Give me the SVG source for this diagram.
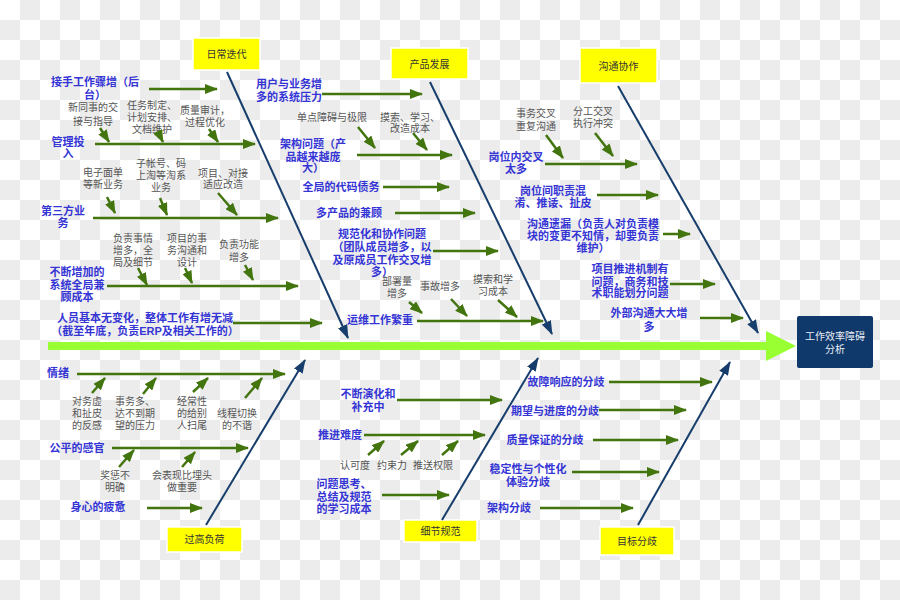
<svg xmlns="http://www.w3.org/2000/svg" width="900" height="600" viewBox="0 0 900 600">
<defs>
<pattern id="chk" width="40" height="40" patternUnits="userSpaceOnUse">
<rect width="40" height="40" fill="#ffffff"/>
<rect x="20" y="0" width="20" height="20" fill="#ececec"/>
<rect x="0" y="20" width="20" height="20" fill="#ececec"/>
</pattern>
<marker id="ga" viewBox="0 0 13 10" refX="12" refY="5" markerWidth="13" markerHeight="10" markerUnits="userSpaceOnUse" orient="auto">
<path d="M0,0 L13,5 L0,10 z" fill="#43750f"/>
</marker>
<marker id="na" viewBox="0 0 14 10" refX="13" refY="5" markerWidth="14" markerHeight="10" markerUnits="userSpaceOnUse" orient="auto">
<path d="M0,0 L14,5 L0,10 z" fill="#163d6b"/>
</marker>
</defs>
<style>
.b{font-family:"Liberation Sans","Noto Sans CJK SC",sans-serif;font-size:11px;font-weight:bold;fill:#3535d5;text-anchor:middle}
.g{font-family:"Liberation Sans","Noto Sans CJK SC",sans-serif;font-size:10px;fill:#555555;text-anchor:middle}
.yb rect{fill:#ffff00;stroke:#ffffff;stroke-width:1.5}
.yb text{font-family:"Liberation Sans","Noto Sans CJK SC",sans-serif;font-size:10px;fill:#333333;text-anchor:middle}
.ga{stroke:#43750f;stroke-width:2.5;fill:none;marker-end:url(#ga)}
.bn{stroke:#163d6b;stroke-width:2;fill:none;marker-end:url(#na)}
</style>
<rect width="900" height="600" fill="url(#chk)"/>

<g id="spine">
<rect x="48" y="342" width="720" height="8" fill="#99ff33"/>
<polygon points="766,331 796,346 766,361" fill="#99ff33"/>
</g>

<g id="head">
<rect x="797" y="316" width="76" height="52" rx="2" fill="#0f386b"/>
<text x="835" y="340" style="font-family:'Liberation Sans','Noto Sans CJK SC',sans-serif;font-size:10px;fill:#e8eef5;text-anchor:middle">工作效率障碍</text>
<text x="835" y="353" style="font-family:'Liberation Sans','Noto Sans CJK SC',sans-serif;font-size:10px;fill:#e8eef5;text-anchor:middle">分析</text>
</g>

<g id="cat-richang" class="yb"><rect x="193" y="38" width="67" height="32"/><text x="226.5" y="58">日常迭代</text></g>
<g id="cat-chanpin" class="yb"><rect x="391" y="48" width="77" height="31"/><text x="429.5" y="67.5">产品发展</text></g>
<g id="cat-goutong" class="yb"><rect x="580" y="48" width="77" height="35"/><text x="618.5" y="69.5">沟通协作</text></g>
<g id="cat-fuhe" class="yb"><rect x="167" y="527" width="75" height="25"/><text x="204.5" y="543">过高负荷</text></g>
<g id="cat-guifan" class="yb"><rect x="404" y="520" width="73" height="22"/><text x="440.5" y="535">细节规范</text></g>
<g id="cat-mubiao" class="yb"><rect x="600" y="527" width="74" height="28"/><text x="637" y="545">目标分歧</text></g>

<!-- 日常迭代 -->
<g id="n-jieshou"><text class="b" x="95" y="86">接手工作骤增（后</text><text class="b" x="95" y="99">台）</text></g>
<g id="s-xintongshi"><text class="g" x="93" y="111">新同事的交</text><text class="g" x="93" y="125">接与指导</text></g>
<g id="s-renwu"><text class="g" x="152" y="109">任务制定、</text><text class="g" x="152" y="121">计划安排、</text><text class="g" x="152" y="133">文档维护</text></g>
<g id="s-zhiliang"><text class="g" x="205" y="114">质量审计，</text><text class="g" x="205" y="126">过程优化</text></g>
<g id="n-guanli"><text class="b" x="68" y="146">管理投</text><text class="b" x="68" y="158">入</text></g>
<g id="s-dianzi"><text class="g" x="103" y="176">电子面单</text><text class="g" x="103" y="188">等新业务</text></g>
<g id="s-zizhang"><text class="g" x="161" y="167">子帐号、码</text><text class="g" x="161" y="179">上淘等淘系</text><text class="g" x="161" y="191">业务</text></g>
<g id="s-xiangmu"><text class="g" x="223" y="177">项目、对接</text><text class="g" x="223" y="188">适应改造</text></g>
<g id="n-disanfang"><text class="b" x="63" y="215">第三方业</text><text class="b" x="63" y="227">务</text></g>
<g id="s-fuze"><text class="g" x="133" y="242">负责事情</text><text class="g" x="133" y="254">增多，全</text><text class="g" x="133" y="266">局及细节</text></g>
<g id="s-xiangmushi"><text class="g" x="187" y="242">项目的事</text><text class="g" x="187" y="254">务沟通和</text><text class="g" x="187" y="266">设计</text></g>
<g id="s-gongneng"><text class="g" x="239" y="248">负责功能</text><text class="g" x="239" y="261">增多</text></g>
<g id="n-buduan"><text class="b" x="77" y="276">不断增加的</text><text class="b" x="77" y="289">系统全局兼</text><text class="b" x="77" y="301">顾成本</text></g>
<g id="n-renyuan"><text class="b" x="145" y="322">人员基本无变化，整体工作有增无减</text><text class="b" x="145" y="335">（截至年底，负责ERP及相关工作的）</text></g>

<!-- 产品发展 -->
<g id="n-yonghu"><text class="b" x="289" y="88">用户与业务增</text><text class="b" x="289" y="101">多的系统压力</text></g>
<g id="s-dandian"><text class="g" x="332" y="121">单点障碍与极限</text></g>
<g id="s-mosuo1"><text class="g" x="410" y="121">摸索、学习、</text><text class="g" x="410" y="132">改造成本</text></g>
<g id="n-jiagou"><text class="b" x="313" y="148">架构问题（产</text><text class="b" x="313" y="161">品越来越庞</text><text class="b" x="313" y="172">大）</text></g>
<g id="n-daima"><text class="b" x="341" y="191">全局的代码债务</text></g>
<g id="n-duochanpin"><text class="b" x="349" y="217">多产品的兼顾</text></g>
<g id="n-guifanhua"><text class="b" x="382" y="238">规范化和协作问题</text><text class="b" x="382" y="251">（团队成员增多，以</text><text class="b" x="382" y="264">及原成员工作交叉增</text><text class="b" x="382" y="276">多）</text></g>
<g id="s-bushu"><text class="g" x="397" y="285">部署量</text><text class="g" x="397" y="297">增多</text></g>
<g id="s-shigu"><text class="g" x="440" y="290">事故增多</text></g>
<g id="s-mosuo2"><text class="g" x="493" y="283">摸索和学</text><text class="g" x="493" y="295">习成本</text></g>
<g id="n-yunwei"><text class="b" x="380" y="324">运维工作繁重</text></g>

<!-- 沟通协作 -->
<g id="s-shiwu"><text class="g" x="536" y="117">事务交叉</text><text class="g" x="536" y="130">重复沟通</text></g>
<g id="s-fengong"><text class="g" x="593" y="115">分工交叉</text><text class="g" x="593" y="127">执行冲突</text></g>
<g id="n-gangweinei"><text class="b" x="516" y="161">岗位内交叉</text><text class="b" x="516" y="173">太多</text></g>
<g id="n-gangweijian"><text class="b" x="553" y="195">岗位间职责混</text><text class="b" x="553" y="207">淆、推诿、扯皮</text></g>
<g id="n-yilou"><text class="b" x="593" y="228">沟通遗漏（负责人对负责模</text><text class="b" x="593" y="240">块的变更不知情，却要负责</text><text class="b" x="593" y="252">维护）</text></g>
<g id="n-tuijin"><text class="b" x="630" y="273">项目推进机制有</text><text class="b" x="630" y="286">问题，商务和技</text><text class="b" x="630" y="297">术职能划分问题</text></g>
<g id="n-waibu"><text class="b" x="649" y="317">外部沟通大大增</text><text class="b" x="649" y="331">多</text></g>

<!-- 过高负荷 -->
<g id="n-qingxu"><text class="b" x="58" y="377">情绪</text></g>
<g id="s-wuxu"><text class="g" x="87" y="405">对务虚</text><text class="g" x="87" y="417">和扯皮</text><text class="g" x="87" y="429">的反感</text></g>
<g id="s-shiwuduo"><text class="g" x="135" y="405">事务多、</text><text class="g" x="135" y="417">达不到期</text><text class="g" x="135" y="429">望的压力</text></g>
<g id="s-jingchang"><text class="g" x="192" y="405">经常性</text><text class="g" x="192" y="417">的给别</text><text class="g" x="192" y="429">人扫尾</text></g>
<g id="s-xiancheng"><text class="g" x="237" y="417">线程切换</text><text class="g" x="237" y="429">的不谐</text></g>
<g id="n-gongping"><text class="b" x="77" y="452">公平的感官</text></g>
<g id="s-jiangcheng"><text class="g" x="115" y="479">奖惩不</text><text class="g" x="115" y="491">明确</text></g>
<g id="s-biaoxian"><text class="g" x="182" y="479">会表现比埋头</text><text class="g" x="182" y="491">做重要</text></g>
<g id="n-shenxin"><text class="b" x="98" y="511">身心的疲惫</text></g>

<!-- 细节规范 -->
<g id="n-yanhua"><text class="b" x="368" y="398">不断演化和</text><text class="b" x="368" y="411">补充中</text></g>
<g id="n-nandu"><text class="b" x="340" y="439">推进难度</text></g>
<g id="s-renke"><text class="g" x="355" y="469">认可度</text></g>
<g id="s-yueshu"><text class="g" x="392" y="469">约束力</text></g>
<g id="s-tuisong"><text class="g" x="433" y="469">推送权限</text></g>
<g id="n-sikao"><text class="b" x="344" y="488">问题思考、</text><text class="b" x="344" y="501">总结及规范</text><text class="b" x="344" y="513">的学习成本</text></g>

<!-- 目标分歧 -->
<g id="n-guzhang"><text class="b" x="566" y="386">故障响应的分歧</text></g>
<g id="n-qiwang"><text class="b" x="555" y="415">期望与进度的分歧</text></g>
<g id="n-zhibao"><text class="b" x="545" y="444">质量保证的分歧</text></g>
<g id="n-wending"><text class="b" x="528" y="473">稳定性与个性化</text><text class="b" x="528" y="486">体验分歧</text></g>
<g id="n-jiagoufenqi"><text class="b" x="509" y="512">架构分歧</text></g>

<g id="connectors">
<!-- bones -->
<line class="bn" x1="227" y1="72" x2="348" y2="338"/>
<line class="bn" x1="430" y1="82" x2="552" y2="334"/>
<line class="bn" x1="618" y1="86" x2="758" y2="333"/>
<line class="bn" x1="206" y1="525" x2="305" y2="360"/>
<line class="bn" x1="442" y1="520" x2="538" y2="358"/>
<line class="bn" x1="638" y1="525" x2="730" y2="362"/>
<!-- 日常迭代 -->
<line class="ga" x1="149" y1="89" x2="217" y2="89"/>
<line class="ga" x1="100" y1="128" x2="109" y2="142"/>
<line class="ga" x1="158" y1="132" x2="163" y2="142"/>
<line class="ga" x1="209" y1="129" x2="218" y2="142"/>
<line class="ga" x1="95" y1="144" x2="255" y2="144"/>
<line class="ga" x1="107" y1="197" x2="115" y2="213"/>
<line class="ga" x1="160" y1="198" x2="167" y2="215"/>
<line class="ga" x1="218" y1="193" x2="237" y2="215"/>
<line class="ga" x1="93" y1="218" x2="278" y2="218"/>
<line class="ga" x1="138" y1="268" x2="147" y2="285"/>
<line class="ga" x1="185" y1="268" x2="192" y2="283"/>
<line class="ga" x1="245" y1="265" x2="253" y2="280"/>
<line class="ga" x1="107" y1="286" x2="298" y2="286"/>
<line class="ga" x1="233" y1="323" x2="322" y2="323"/>
<!-- 产品发展 -->
<line class="ga" x1="322" y1="94" x2="422" y2="94"/>
<line class="ga" x1="358" y1="127" x2="375" y2="148"/>
<line class="ga" x1="413" y1="133" x2="427" y2="150"/>
<line class="ga" x1="357" y1="155" x2="452" y2="155"/>
<line class="ga" x1="383" y1="187" x2="449" y2="187"/>
<line class="ga" x1="395" y1="213" x2="475" y2="213"/>
<line class="ga" x1="433" y1="251" x2="498" y2="251"/>
<line class="ga" x1="409" y1="302" x2="422" y2="313"/>
<line class="ga" x1="451" y1="299" x2="467" y2="316"/>
<line class="ga" x1="498" y1="300" x2="517" y2="317"/>
<line class="ga" x1="417" y1="321" x2="543" y2="321"/>
<!-- 沟通协作 -->
<line class="ga" x1="546" y1="135" x2="563" y2="158"/>
<line class="ga" x1="595" y1="133" x2="613" y2="156"/>
<line class="ga" x1="545" y1="164" x2="637" y2="164"/>
<line class="ga" x1="597" y1="195" x2="658" y2="195"/>
<line class="ga" x1="663" y1="234" x2="690" y2="234"/>
<line class="ga" x1="670" y1="284" x2="715" y2="284"/>
<line class="ga" x1="700" y1="318" x2="743" y2="318"/>
<!-- 过高负荷 -->
<line class="ga" x1="77" y1="374" x2="285" y2="374"/>
<line class="ga" x1="92" y1="393" x2="105" y2="378"/>
<line class="ga" x1="143" y1="394" x2="156" y2="378"/>
<line class="ga" x1="193" y1="392" x2="208" y2="378"/>
<line class="ga" x1="245" y1="398" x2="262" y2="378"/>
<line class="ga" x1="112" y1="448" x2="248" y2="448"/>
<line class="ga" x1="119" y1="467" x2="134" y2="450"/>
<line class="ga" x1="182" y1="467" x2="195" y2="452"/>
<line class="ga" x1="147" y1="508" x2="202" y2="508"/>
<!-- 细节规范 -->
<line class="ga" x1="397" y1="400" x2="502" y2="400"/>
<line class="ga" x1="364" y1="435" x2="485" y2="435"/>
<line class="ga" x1="368" y1="455" x2="384" y2="441"/>
<line class="ga" x1="401" y1="455" x2="418" y2="441"/>
<line class="ga" x1="442" y1="455" x2="458" y2="441"/>
<line class="ga" x1="382" y1="495" x2="449" y2="495"/>
<!-- 目标分歧 -->
<line class="ga" x1="609" y1="382" x2="712" y2="382"/>
<line class="ga" x1="599" y1="410" x2="686" y2="410"/>
<line class="ga" x1="593" y1="440" x2="678" y2="440"/>
<line class="ga" x1="572" y1="472" x2="659" y2="472"/>
<line class="ga" x1="540" y1="508" x2="633" y2="508"/>
</g>
</svg>
